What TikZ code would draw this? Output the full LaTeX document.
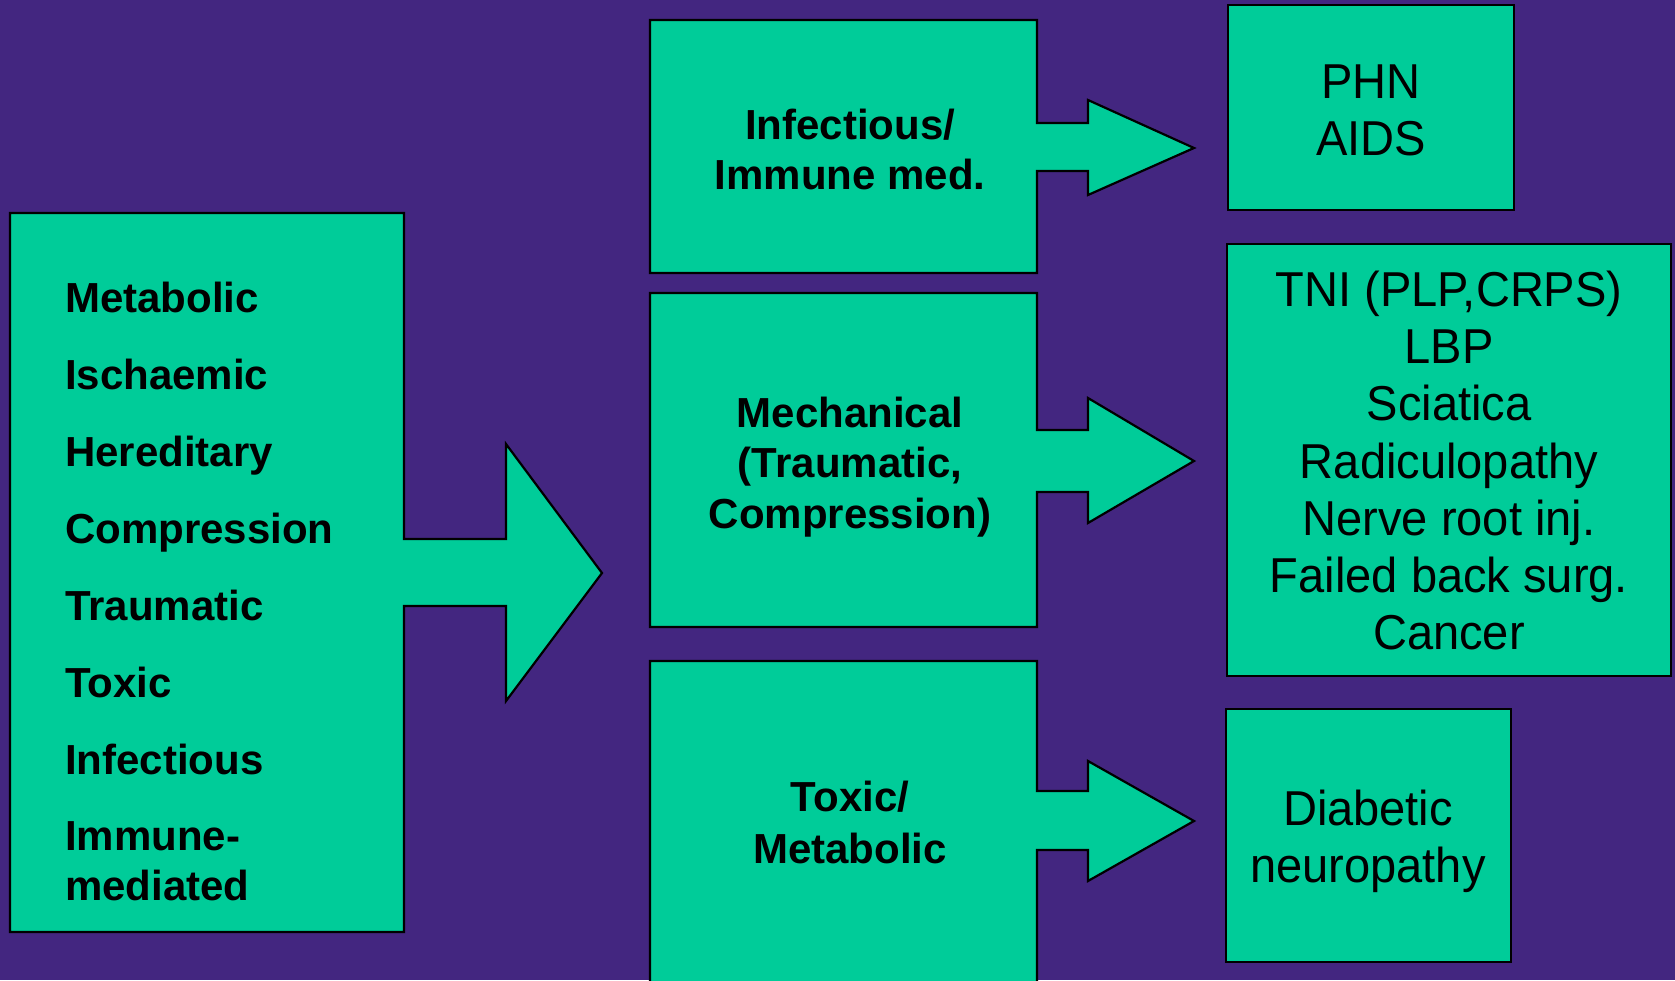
\documentclass[tikz,border=0pt]{standalone}
\usepackage{fontspec}
\setmainfont{Liberation Sans}
\newfontfamily\regfont[FakeStretch=0.96]{Liberation Sans}
\definecolor{bgpurple}{RGB}{67,38,128}
\definecolor{boxgreen}{RGB}{0,204,153}
\begin{document}
\begin{tikzpicture}[x=1pt,y=-1pt,
  shapebox/.style={fill=boxgreen,draw=black,line width=2.2pt,line join=miter},
  boldtxt/.style={font=\fontsize{42}{50}\selectfont\bfseries,inner sep=0pt,text=black,anchor=base},
  lefttxt/.style={boldtxt,anchor=base west},
  regtxt/.style={font=\regfont\fontsize{49}{57}\selectfont,inner sep=0pt,text=black,anchor=base}]
\useasboundingbox (0,0) rectangle (1675,980);
\fill[bgpurple] (0,0) rectangle (1675,980);

% left callout
\draw[shapebox] (10,213) -- (404,213) -- (404,539) -- (506,539) -- (506,444) -- (602,573)
  -- (506,701) -- (506,606) -- (404,606) -- (404,932) -- (10,932) -- cycle;
% middle callouts
\draw[shapebox] (650,20) -- (1037,20) -- (1037,123) -- (1088,123) -- (1088,100) -- (1194,148)
  -- (1088,195) -- (1088,171) -- (1037,171) -- (1037,273) -- (650,273) -- cycle;
\draw[shapebox] (650,293) -- (1037,293) -- (1037,430) -- (1088,430) -- (1088,398) -- (1194,461)
  -- (1088,523) -- (1088,492) -- (1037,492) -- (1037,627) -- (650,627) -- cycle;
\draw[shapebox] (650,661) -- (1037,661) -- (1037,791) -- (1088,791) -- (1088,761) -- (1194,821)
  -- (1088,881) -- (1088,850) -- (1037,850) -- (1037,1000) -- (650,1000) -- cycle;
% right boxes
\draw[shapebox] (1228,5) rectangle (1514,210);
\draw[shapebox] (1227,244) rectangle (1671,676);
\draw[shapebox] (1226,709) rectangle (1511,962);

% left text
\node[lefttxt] (l1) at (65,312) {Metabolic};
\node[lefttxt] (l2) at (65,389) {Ischaemic};
\node[lefttxt] (l3) at (65,466) {Hereditary};
\node[lefttxt] (l4) at (65,543) {Compression};
\node[lefttxt] (l5) at (65,620) {Traumatic};
\node[lefttxt] (l6) at (65,697) {Toxic};
\node[lefttxt] (l7) at (65,774) {Infectious};
\node[lefttxt] (l8) at (65,850) {Immune-};
\node[lefttxt] (l9) at (65,900) {mediated};

% middle text
\node[boldtxt] (m1) at (850,139) {Infectious/};
\node[boldtxt] (m2) at (850,189) {Immune med.};
\node[boldtxt] (m3) at (850,427) {Mechanical};
\node[boldtxt] (m4) at (850,477) {(Traumatic,};
\node[boldtxt] (m5) at (850,528) {Compression)};
\node[boldtxt] (m6) at (850,811) {Toxic/};
\node[boldtxt] (m7) at (850,863) {Metabolic};

% right text
\node[regtxt] (r1) at (1371,98) {PHN};
\node[regtxt] (r2) at (1371,155) {AIDS};
\node[regtxt] (t1) at (1449,306) {TNI (PLP,CRPS)};
\node[regtxt] (t2) at (1449,363) {LBP};
\node[regtxt] (t3) at (1449,420) {Sciatica};
\node[regtxt] (t4) at (1449,478) {Radiculopathy};
\node[regtxt] (t5) at (1449,535) {Nerve root inj.};
\node[regtxt] (t6) at (1449,592) {Failed back surg.};
\node[regtxt] (t7) at (1449,649) {Cancer};
\node[regtxt] (d1) at (1368,825) {Diabetic};
\node[regtxt] (d2) at (1368,882) {neuropathy};
\end{tikzpicture}
\end{document}
